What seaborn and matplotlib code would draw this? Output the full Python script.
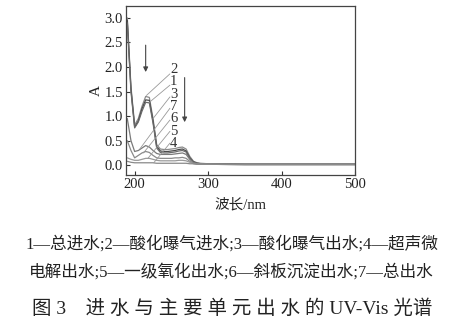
import numpy as np
import pandas as pd
import matplotlib
matplotlib.use("Agg")
import matplotlib.pyplot as plt
import seaborn as sns

sns.set_theme(style="ticks")
plt.rcParams['font.family'] = ['Liberation Serif', 'Noto Sans CJK SC']

wavelength = [190, 195, 200, 205, 210, 215, 220, 225, 230, 235, 240, 245, 250,
              255, 260, 265, 270, 275, 280, 285, 290, 300, 350, 400, 450, 500]
curve_2 = [3.00, 1.60, 0.82, 0.95, 1.20, 1.40, 1.38, 0.95, 0.42, 0.33, 0.32, 0.32, 0.33,
           0.34, 0.36, 0.37, 0.33, 0.18, 0.08, 0.05, 0.04, 0.03, 0.02, 0.02, 0.02, 0.02]
curve_1 = [2.95, 1.55, 0.78, 0.90, 1.15, 1.33, 1.32, 0.90, 0.38, 0.29, 0.28, 0.28, 0.29,
           0.30, 0.32, 0.33, 0.29, 0.15, 0.07, 0.04, 0.03, 0.03, 0.02, 0.02, 0.02, 0.02]
curve_3 = [2.90, 1.50, 0.76, 0.88, 1.10, 1.28, 1.27, 0.86, 0.35, 0.26, 0.25, 0.25, 0.26,
           0.27, 0.29, 0.30, 0.27, 0.14, 0.06, 0.04, 0.03, 0.02, 0.02, 0.02, 0.02, 0.02]
curve_7 = [0.95, 0.50, 0.28, 0.30, 0.35, 0.40, 0.37, 0.30, 0.24, 0.22, 0.22, 0.22, 0.22,
           0.23, 0.24, 0.25, 0.22, 0.12, 0.05, 0.03, 0.03, 0.02, 0.02, 0.02, 0.02, 0.02]
curve_6 = [0.50, 0.30, 0.15, 0.20, 0.25, 0.28, 0.26, 0.20, 0.15, 0.14, 0.14, 0.14, 0.14,
           0.15, 0.15, 0.16, 0.14, 0.08, 0.04, 0.03, 0.02, 0.02, 0.02, 0.02, 0.02, 0.02]
curve_5 = [0.15, 0.12, 0.10, 0.10, 0.12, 0.14, 0.14, 0.12, 0.10, 0.09, 0.09, 0.09, 0.09,
           0.09, 0.10, 0.10, 0.09, 0.06, 0.03, 0.02, 0.02, 0.02, 0.01, 0.01, 0.01, 0.01]
curve_4 = [0.08, 0.06, 0.05, 0.05, 0.05, 0.05, 0.05, 0.05, 0.04, 0.04, 0.04, 0.04, 0.04,
           0.04, 0.04, 0.04, 0.04, 0.03, 0.03, 0.02, 0.02, 0.02, 0.01, 0.01, 0.01, 0.01]

labels = ["2", "1", "3", "7", "6", "5", "4"]
series = [curve_2, curve_1, curve_3, curve_7, curve_6, curve_5, curve_4]
label_y = [1.96, 1.73, 1.49, 1.26, 1.02, 0.79, 0.55]
target_x = [216, 220, 225, 207, 212, 218, 226]
target_y = [1.42, 1.28, 0.95, 0.33, 0.25, 0.14, 0.05]

legend_line1 = "1—总进水;2—酸化曝气进水;3—酸化曝气出水;4—超声微"
legend_line2 = "电解出水;5—一级氧化出水;6—斜板沉淀出水;7—总出水"
caption = "图 3    进 水 与 主 要 单 元 出 水 的 UV-Vis 光谱"

df = pd.DataFrame({
    "wavelength": np.tile(wavelength, len(series)),
    "A": np.concatenate(series),
    "curve": np.repeat(labels, len(wavelength)),
})

fig = plt.figure(figsize=(4.73, 3.26), dpi=100)
ax = fig.add_axes([0.266, 0.463, 0.485, 0.52])

palette = {"2": "#8a8a8a", "1": "#4a4a4a", "3": "#6a6a6a", "7": "#7a7a7a",
           "6": "#8a8a8a", "5": "#9a9a9a", "4": "#8a8a8a"}
sns.lineplot(data=df, x="wavelength", y="A", hue="curve", palette=palette,
             legend=False, ax=ax, linewidth=0.9, sort=False)

ax.set_xlim(188, 500)
ax.set_ylim(-0.2, 3.25)
ax.set_xticks([200, 300, 400, 500])
ax.set_yticks([0.0, 0.5, 1.0, 1.5, 2.0, 2.5, 3.0])
ax.set_yticklabels(["0.0", "0.5", "1.0", "1.5", "2.0", "2.5", "3.0"])
ax.tick_params(direction="in", length=3, width=0.8, labelsize=10.5, colors="#333333",
               labelcolor="#222222", pad=2)
for s in ax.spines.values():
    s.set_color("#444444")
    s.set_linewidth(0.9)

ax.set_xlabel("波长/nm", fontsize=10.5, color="#222222", labelpad=5)
ax.set_ylabel("A", fontsize=11, color="#222222", labelpad=1)

# leader lines
for ly, tx, ty in zip(label_y, target_x, target_y):
    ax.annotate("", xy=(tx, ty), xytext=(248, ly - 0.1),
                arrowprops=dict(arrowstyle="-", color="#999999", lw=0.6,
                                shrinkA=0, shrinkB=0))
# curve numbers as one stacked text
ax.text(253, label_y[0] + 0.12, "\n".join(labels), fontsize=10.5, color="#333333",
        ha="center", va="top", linespacing=0.93)

# arrows
ax.annotate("", xy=(215, 1.84), xytext=(215, 2.5),
            arrowprops=dict(arrowstyle="-|>", color="#444444", lw=0.8, mutation_scale=7))
ax.annotate("", xy=(268, 0.82), xytext=(268, 1.84),
            arrowprops=dict(arrowstyle="-|>", color="#444444", lw=0.8, mutation_scale=7))

fig.text(0.49, 1 - 244 / 326, legend_line1, ha="center", va="center", fontsize=12, color="#222222")
fig.text(0.49, 1 - 272 / 326, legend_line2, ha="center", va="center", fontsize=12, color="#222222")
fig.text(0.49, 1 - 309 / 326, caption, ha="center", va="center", fontsize=14, color="#222222")

fig.savefig("out.png", dpi=100)
